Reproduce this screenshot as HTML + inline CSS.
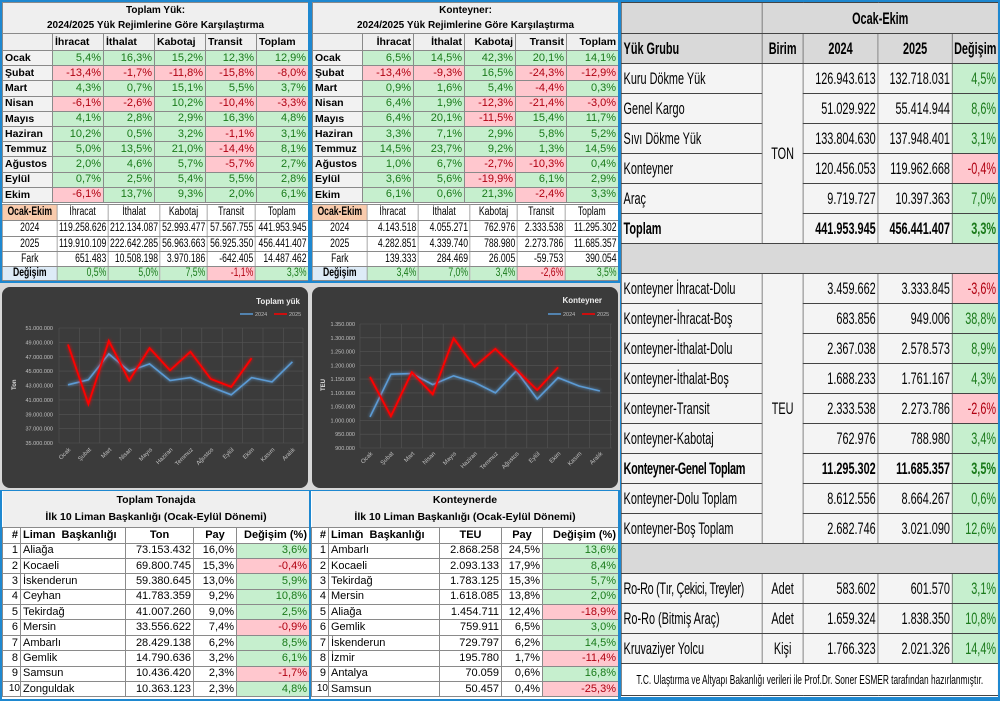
<!DOCTYPE html>
<html><head><meta charset="utf-8">
<style>
*{box-sizing:border-box}
body{margin:0;width:1000px;height:701px;background:#1e88d0;position:relative;overflow:hidden;font-family:"Liberation Sans",sans-serif;}
.p{position:absolute;background:#fff;overflow:hidden}
table{border-collapse:collapse;table-layout:fixed;position:absolute;left:0;top:0}
td{border:1px solid #8a8a8a;padding:0 2px;white-space:nowrap;overflow:hidden;font-size:11px;line-height:1}
.ttl{background:#efefef;font-weight:bold;text-align:center;font-size:10px;line-height:15px}
.h{background:#efefef;font-weight:bold;font-size:10.5px}
.l{background:#f2f2f2;font-weight:bold;font-size:10.5px}
.g{background:#c6efce;color:#1a7a1a;text-align:right}
.r{background:#ffc7ce;color:#b00010;text-align:right}
.w{background:#fff;text-align:right}
.c{text-align:center}
.pe{background:#f8cbad;text-align:center;font-weight:bold}
.bl{background:#ddebf7;text-align:center;font-weight:bold}
.S{transform:scaleX(0.75);transform-origin:0 0}
.S td{font-size:11.5px;padding:0 2px;line-height:11px}
.R{transform:scaleX(0.64);transform-origin:0 0}
.R td{font-size:17px;border:1px solid #444;padding:0 3px}
.R .gy{background:#d9d9d9}
.R .lb{background:#f4f4f4}
.B td{font-size:11px}
</style></head><body>

<!-- Top-left table -->
<div class="p" style="left:2px;top:2px;width:306px;height:279px">
<table style="width:306px">
<colgroup><col style="width:50px"><col style="width:51px"><col style="width:51px"><col style="width:51px"><col style="width:51px"><col style="width:52px"></colgroup>
<tr style="height:31px"><td colspan="6" class="ttl">Toplam Yük:<br>2024/2025 Yük Rejimlerine Göre Karşılaştırma</td></tr>
<tr style="height:17px"><td class="h"></td><td class="h">İhracat</td><td class="h">İthalat</td><td class="h">Kabotaj</td><td class="h">Transit</td><td class="h">Toplam</td></tr>
<tr style="height:15.2px"><td class="l">Ocak</td><td class="g">5,4%</td><td class="g">16,3%</td><td class="g">15,2%</td><td class="g">12,3%</td><td class="g">12,9%</td></tr>
<tr style="height:15.2px"><td class="l">Şubat</td><td class="r">-13,4%</td><td class="r">-1,7%</td><td class="r">-11,8%</td><td class="r">-15,8%</td><td class="r">-8,0%</td></tr>
<tr style="height:15.2px"><td class="l">Mart</td><td class="g">4,3%</td><td class="g">0,7%</td><td class="g">15,1%</td><td class="g">5,5%</td><td class="g">3,7%</td></tr>
<tr style="height:15.2px"><td class="l">Nisan</td><td class="r">-6,1%</td><td class="r">-2,6%</td><td class="g">10,2%</td><td class="r">-10,4%</td><td class="r">-3,3%</td></tr>
<tr style="height:15.2px"><td class="l">Mayıs</td><td class="g">4,1%</td><td class="g">2,8%</td><td class="g">2,9%</td><td class="g">16,3%</td><td class="g">4,8%</td></tr>
<tr style="height:15.2px"><td class="l">Haziran</td><td class="g">10,2%</td><td class="g">0,5%</td><td class="g">3,2%</td><td class="r">-1,1%</td><td class="g">3,1%</td></tr>
<tr style="height:15.2px"><td class="l">Temmuz</td><td class="g">5,0%</td><td class="g">13,5%</td><td class="g">21,0%</td><td class="r">-14,4%</td><td class="g">8,1%</td></tr>
<tr style="height:15.2px"><td class="l">Ağustos</td><td class="g">2,0%</td><td class="g">4,6%</td><td class="g">5,7%</td><td class="r">-5,7%</td><td class="g">2,7%</td></tr>
<tr style="height:15.2px"><td class="l">Eylül</td><td class="g">0,7%</td><td class="g">2,5%</td><td class="g">5,4%</td><td class="g">5,5%</td><td class="g">2,8%</td></tr>
<tr style="height:15.2px"><td class="l">Ekim</td><td class="r">-6,1%</td><td class="g">13,7%</td><td class="g">9,3%</td><td class="g">2,0%</td><td class="g">6,1%</td></tr>
</table>
<table class="S" style="width:408px;top:202px">
<colgroup><col style="width:73px"><col style="width:68px"><col style="width:69px"><col style="width:63px"><col style="width:64px"><col style="width:71px"></colgroup>
<tr style="height:16px"><td class="pe">Ocak-Ekim</td><td class="c">İhracat</td><td class="c">İthalat</td><td class="c">Kabotaj</td><td class="c">Transit</td><td class="c">Toplam</td></tr>
<tr style="height:16px"><td class="c">2024</td><td class="w">119.258.626</td><td class="w">212.134.087</td><td class="w">52.993.477</td><td class="w">57.567.755</td><td class="w">441.953.945</td></tr>
<tr style="height:15px"><td class="c">2025</td><td class="w">119.910.109</td><td class="w">222.642.285</td><td class="w">56.963.663</td><td class="w">56.925.350</td><td class="w">456.441.407</td></tr>
<tr style="height:15px"><td class="c">Fark</td><td class="w">651.483</td><td class="w">10.508.198</td><td class="w">3.970.186</td><td class="w">-642.405</td><td class="w">14.487.462</td></tr>
<tr style="height:14px"><td class="bl">Değişim</td><td class="g">0,5%</td><td class="g">5,0%</td><td class="g">7,5%</td><td class="r">-1,1%</td><td class="g">3,3%</td></tr>
</table>
</div>

<!-- Top-middle table -->
<div class="p" style="left:312px;top:2px;width:306px;height:279px">
<table style="width:306px">
<colgroup><col style="width:50px"><col style="width:51px"><col style="width:51px"><col style="width:51px"><col style="width:51px"><col style="width:52px"></colgroup>
<tr style="height:31px"><td colspan="6" class="ttl">Konteyner:<br>2024/2025 Yük Rejimlerine Göre Karşılaştırma</td></tr>
<tr style="height:17px"><td class="h"></td><td class="h" style="text-align:right">İhracat</td><td class="h" style="text-align:right">İthalat</td><td class="h" style="text-align:right">Kabotaj</td><td class="h" style="text-align:right">Transit</td><td class="h" style="text-align:right">Toplam</td></tr>
<tr style="height:15.2px"><td class="l">Ocak</td><td class="g">6,5%</td><td class="g">14,5%</td><td class="g">42,3%</td><td class="g">20,1%</td><td class="g">14,1%</td></tr>
<tr style="height:15.2px"><td class="l">Şubat</td><td class="r">-13,4%</td><td class="r">-9,3%</td><td class="g">16,5%</td><td class="r">-24,3%</td><td class="r">-12,9%</td></tr>
<tr style="height:15.2px"><td class="l">Mart</td><td class="g">0,9%</td><td class="g">1,6%</td><td class="g">5,4%</td><td class="r">-4,4%</td><td class="g">0,3%</td></tr>
<tr style="height:15.2px"><td class="l">Nisan</td><td class="g">6,4%</td><td class="g">1,9%</td><td class="r">-12,3%</td><td class="r">-21,4%</td><td class="r">-3,0%</td></tr>
<tr style="height:15.2px"><td class="l">Mayıs</td><td class="g">6,4%</td><td class="g">20,1%</td><td class="r">-11,5%</td><td class="g">15,4%</td><td class="g">11,7%</td></tr>
<tr style="height:15.2px"><td class="l">Haziran</td><td class="g">3,3%</td><td class="g">7,1%</td><td class="g">2,9%</td><td class="g">5,8%</td><td class="g">5,2%</td></tr>
<tr style="height:15.2px"><td class="l">Temmuz</td><td class="g">14,5%</td><td class="g">23,7%</td><td class="g">9,2%</td><td class="g">1,3%</td><td class="g">14,5%</td></tr>
<tr style="height:15.2px"><td class="l">Ağustos</td><td class="g">1,0%</td><td class="g">6,7%</td><td class="r">-2,7%</td><td class="r">-10,3%</td><td class="g">0,4%</td></tr>
<tr style="height:15.2px"><td class="l">Eylül</td><td class="g">3,6%</td><td class="g">5,6%</td><td class="r">-19,9%</td><td class="g">6,1%</td><td class="g">2,9%</td></tr>
<tr style="height:15.2px"><td class="l">Ekim</td><td class="g">6,1%</td><td class="g">0,6%</td><td class="g">21,3%</td><td class="r">-2,4%</td><td class="g">3,3%</td></tr>
</table>
<table class="S" style="width:408px;top:202px">
<colgroup><col style="width:73px"><col style="width:68px"><col style="width:69px"><col style="width:63px"><col style="width:64px"><col style="width:71px"></colgroup>
<tr style="height:16px"><td class="pe">Ocak-Ekim</td><td class="c">İhracat</td><td class="c">İthalat</td><td class="c">Kabotaj</td><td class="c">Transit</td><td class="c">Toplam</td></tr>
<tr style="height:16px"><td class="c">2024</td><td class="w">4.143.518</td><td class="w">4.055.271</td><td class="w">762.976</td><td class="w">2.333.538</td><td class="w">11.295.302</td></tr>
<tr style="height:15px"><td class="c">2025</td><td class="w">4.282.851</td><td class="w">4.339.740</td><td class="w">788.980</td><td class="w">2.273.786</td><td class="w">11.685.357</td></tr>
<tr style="height:15px"><td class="c">Fark</td><td class="w">139.333</td><td class="w">284.469</td><td class="w">26.005</td><td class="w">-59.753</td><td class="w">390.054</td></tr>
<tr style="height:14px"><td class="bl">Değişim</td><td class="g">3,4%</td><td class="g">7,0%</td><td class="g">3,4%</td><td class="r">-2,6%</td><td class="g">3,5%</td></tr>
</table>
</div>

<!-- Charts -->
<div class="p" style="left:0;top:283px;width:310px;height:207px;background:#d8d8d8"></div>
<div class="p" style="left:310px;top:283px;width:310px;height:207px;background:#d8d8d8"></div>
<svg style="position:absolute;left:0;top:285px" width="310" height="205" font-family="Liberation Sans,sans-serif">
<defs><filter id="gl" x="-10%" y="-10%" width="120%" height="120%"><feGaussianBlur stdDeviation="1.6" result="b"/><feMerge><feMergeNode in="b"/><feMergeNode in="SourceGraphic"/></feMerge></filter></defs>
<rect x="2" y="2" width="306" height="201" rx="8" fill="#3b3b3b"/>
<g stroke="#555" stroke-width="0.6">
<line x1="59" y1="43" x2="303" y2="43"/><line x1="59" y1="57.4" x2="303" y2="57.4"/><line x1="59" y1="71.8" x2="303" y2="71.8"/><line x1="59" y1="86.1" x2="303" y2="86.1"/><line x1="59" y1="100.5" x2="303" y2="100.5"/><line x1="59" y1="114.9" x2="303" y2="114.9"/><line x1="59" y1="129.3" x2="303" y2="129.3"/><line x1="59" y1="143.6" x2="303" y2="143.6"/><line x1="59" y1="158" x2="303" y2="158"/>
<line x1="59" y1="43" x2="59" y2="158"/><line x1="79.4" y1="43" x2="79.4" y2="158"/><line x1="99.8" y1="43" x2="99.8" y2="158"/><line x1="120.2" y1="43" x2="120.2" y2="158"/><line x1="140.6" y1="43" x2="140.6" y2="158"/><line x1="161" y1="43" x2="161" y2="158"/><line x1="181.4" y1="43" x2="181.4" y2="158"/><line x1="201.8" y1="43" x2="201.8" y2="158"/><line x1="222.2" y1="43" x2="222.2" y2="158"/><line x1="242.6" y1="43" x2="242.6" y2="158"/><line x1="263" y1="43" x2="263" y2="158"/><line x1="283.4" y1="43" x2="283.4" y2="158"/><line x1="303" y1="43" x2="303" y2="158"/>
</g>
<g fill="#c0c0c0" font-size="5.5" text-anchor="end">
<text x="53" y="45">51.000.000</text><text x="53" y="59.4">49.000.000</text><text x="53" y="73.8">47.000.000</text><text x="53" y="88.1">45.000.000</text><text x="53" y="102.5">43.000.000</text><text x="53" y="116.9">41.000.000</text><text x="53" y="131.3">39.000.000</text><text x="53" y="145.6">37.000.000</text><text x="53" y="160">35.000.000</text>
</g>
<text transform="translate(16,105) rotate(-90)" fill="#ddd" font-size="6" font-weight="bold">Ton</text>
<g fill="#c0c0c0" font-size="6" text-anchor="end">
<text transform="translate(71,165) rotate(-45)">Ocak</text><text transform="translate(91.4,165) rotate(-45)">Şubat</text><text transform="translate(111.8,165) rotate(-45)">Mart</text><text transform="translate(132.2,165) rotate(-45)">Nisan</text><text transform="translate(152.6,165) rotate(-45)">Mayıs</text><text transform="translate(173,165) rotate(-45)">Haziran</text><text transform="translate(193.4,165) rotate(-45)">Temmuz</text><text transform="translate(213.8,165) rotate(-45)">Ağustos</text><text transform="translate(234.2,165) rotate(-45)">Eylül</text><text transform="translate(254.6,165) rotate(-45)">Ekim</text><text transform="translate(275,165) rotate(-45)">Kasım</text><text transform="translate(295.4,165) rotate(-45)">Aralık</text>
</g>
<text x="300" y="19" fill="#eee" font-size="8" font-weight="bold" text-anchor="end">Toplam yük</text>
<line x1="240" y1="29" x2="253" y2="29" stroke="#5b9bd5" stroke-width="1.5"/><text x="255" y="31" fill="#bbb" font-size="5.5">2024</text>
<line x1="274" y1="29" x2="287" y2="29" stroke="#f00" stroke-width="1.5"/><text x="289" y="31" fill="#bbb" font-size="5.5">2025</text>
<polyline filter="url(#gl)" fill="none" stroke="#5b9bd5" stroke-width="1.6" points="68,99.8 88.4,94.8 108.8,68.9 129.2,86.1 149.6,78.9 170,95.5 190.4,92.6 210.8,101.9 231.2,109.8 251.6,92.6 272,96.9 292.4,76.8"/>
<polyline filter="url(#gl)" fill="none" stroke="#f00" stroke-width="1.8" points="68,59.5 88.4,119.2 108.8,55.9 129.2,95.5 149.6,63.1 170,85.4 190.4,66.7 210.8,94 231.2,101.9 251.6,73.2"/>
</svg>

<svg style="position:absolute;left:310px;top:285px" width="310" height="205" font-family="Liberation Sans,sans-serif">
<defs><filter id="gl2" x="-10%" y="-10%" width="120%" height="120%"><feGaussianBlur stdDeviation="1.6" result="b"/><feMerge><feMergeNode in="b"/><feMergeNode in="SourceGraphic"/></feMerge></filter></defs>
<rect x="2" y="2" width="306" height="201" rx="8" fill="#3b3b3b"/>
<g stroke="#555" stroke-width="0.6">
<line x1="50" y1="39" x2="302" y2="39"/><line x1="50" y1="52.8" x2="302" y2="52.8"/><line x1="50" y1="66.6" x2="302" y2="66.6"/><line x1="50" y1="80.3" x2="302" y2="80.3"/><line x1="50" y1="94.1" x2="302" y2="94.1"/><line x1="50" y1="107.9" x2="302" y2="107.9"/><line x1="50" y1="121.7" x2="302" y2="121.7"/><line x1="50" y1="135.4" x2="302" y2="135.4"/><line x1="50" y1="149.2" x2="302" y2="149.2"/><line x1="50" y1="163" x2="302" y2="163"/>
<line x1="50" y1="39" x2="50" y2="163"/><line x1="70.5" y1="39" x2="70.5" y2="163"/><line x1="91.4" y1="39" x2="91.4" y2="163"/><line x1="112.3" y1="39" x2="112.3" y2="163"/><line x1="133.2" y1="39" x2="133.2" y2="163"/><line x1="154.1" y1="39" x2="154.1" y2="163"/><line x1="175" y1="39" x2="175" y2="163"/><line x1="195.9" y1="39" x2="195.9" y2="163"/><line x1="216.8" y1="39" x2="216.8" y2="163"/><line x1="237.7" y1="39" x2="237.7" y2="163"/><line x1="258.6" y1="39" x2="258.6" y2="163"/><line x1="279.5" y1="39" x2="279.5" y2="163"/><line x1="300.4" y1="39" x2="300.4" y2="163"/>
</g>
<g fill="#c0c0c0" font-size="5.5" text-anchor="end">
<text x="45" y="41">1.350.000</text><text x="45" y="54.8">1.300.000</text><text x="45" y="68.6">1.250.000</text><text x="45" y="82.3">1.200.000</text><text x="45" y="96.1">1.150.000</text><text x="45" y="109.9">1.100.000</text><text x="45" y="123.7">1.050.000</text><text x="45" y="137.4">1.000.000</text><text x="45" y="151.2">950.000</text><text x="45" y="165">900.000</text>
</g>
<text transform="translate(15,106) rotate(-90)" fill="#ddd" font-size="6" font-weight="bold">TEU</text>
<g fill="#c0c0c0" font-size="6" text-anchor="end">
<text transform="translate(63,169) rotate(-45)">Ocak</text><text transform="translate(83.9,169) rotate(-45)">Şubat</text><text transform="translate(104.8,169) rotate(-45)">Mart</text><text transform="translate(125.7,169) rotate(-45)">Nisan</text><text transform="translate(146.6,169) rotate(-45)">Mayıs</text><text transform="translate(167.5,169) rotate(-45)">Haziran</text><text transform="translate(188.4,169) rotate(-45)">Temmuz</text><text transform="translate(209.3,169) rotate(-45)">Ağustos</text><text transform="translate(230.2,169) rotate(-45)">Eylül</text><text transform="translate(251.1,169) rotate(-45)">Ekim</text><text transform="translate(272,169) rotate(-45)">Kasım</text><text transform="translate(292.9,169) rotate(-45)">Aralık</text>
</g>
<text x="292" y="18" fill="#eee" font-size="8" font-weight="bold" text-anchor="end">Konteyner</text>
<line x1="238" y1="29" x2="251" y2="29" stroke="#5b9bd5" stroke-width="1.5"/><text x="253" y="31" fill="#bbb" font-size="5.5">2024</text>
<line x1="272" y1="29" x2="285" y2="29" stroke="#f00" stroke-width="1.5"/><text x="287" y="31" fill="#bbb" font-size="5.5">2025</text>
<polyline filter="url(#gl2)" fill="none" stroke="#5b9bd5" stroke-width="1.6" points="60,131.9 80.9,89.2 101.8,88.6 122.7,99.6 143.6,90.8 164.5,97.4 185.4,107.9 206.3,85.9 227.2,114 248.1,92.7 269,101 289.9,106"/>
<polyline filter="url(#gl2)" fill="none" stroke="#f00" stroke-width="1.8" points="60,91.9 80.9,131.3 101.8,87.2 122.7,109.3 143.6,53.3 164.5,81.7 185.4,63.8 206.3,84.5 227.2,105.1 248.1,82.3"/>
</svg>

<!-- Bottom-left -->
<div class="p" style="left:2px;top:491px;width:307px;height:208px">
<table class="B" style="width:307px">
<colgroup><col style="width:18px"><col style="width:105px"><col style="width:68px"><col style="width:43px"><col style="width:73px"></colgroup>
<tr style="height:36px"><td colspan="5" class="ttl" style="font-size:10.5px;line-height:17px;border:none">Toplam Tonajda<br>İlk 10 Liman Başkanlığı (Ocak-Eylül Dönemi)</td></tr>
<tr style="height:16px"><td style="text-align:right;font-weight:bold">#</td><td style="font-weight:bold">Liman &nbsp;Başkanlığı</td><td class="c" style="font-weight:bold">Ton</td><td class="c" style="font-weight:bold">Pay</td><td style="text-align:right;font-weight:bold">Değişim (%)</td></tr>
<tr style="height:15.4px"><td style="text-align:right">1</td><td>Aliağa</td><td style="text-align:right">73.153.432</td><td style="text-align:right">16,0%</td><td class="g">3,6%</td></tr>
<tr style="height:15.4px"><td style="text-align:right">2</td><td>Kocaeli</td><td style="text-align:right">69.800.745</td><td style="text-align:right">15,3%</td><td class="r">-0,4%</td></tr>
<tr style="height:15.4px"><td style="text-align:right">3</td><td>İskenderun</td><td style="text-align:right">59.380.645</td><td style="text-align:right">13,0%</td><td class="g">5,9%</td></tr>
<tr style="height:15.4px"><td style="text-align:right">4</td><td>Ceyhan</td><td style="text-align:right">41.783.359</td><td style="text-align:right">9,2%</td><td class="g">10,8%</td></tr>
<tr style="height:15.4px"><td style="text-align:right">5</td><td>Tekirdağ</td><td style="text-align:right">41.007.260</td><td style="text-align:right">9,0%</td><td class="g">2,5%</td></tr>
<tr style="height:15.4px"><td style="text-align:right">6</td><td>Mersin</td><td style="text-align:right">33.556.622</td><td style="text-align:right">7,4%</td><td class="r">-0,9%</td></tr>
<tr style="height:15.4px"><td style="text-align:right">7</td><td>Ambarlı</td><td style="text-align:right">28.429.138</td><td style="text-align:right">6,2%</td><td class="g">8,5%</td></tr>
<tr style="height:15.4px"><td style="text-align:right">8</td><td>Gemlik</td><td style="text-align:right">14.790.636</td><td style="text-align:right">3,2%</td><td class="g">6,1%</td></tr>
<tr style="height:15.4px"><td style="text-align:right">9</td><td>Samsun</td><td style="text-align:right">10.436.420</td><td style="text-align:right">2,3%</td><td class="r">-1,7%</td></tr>
<tr style="height:15.4px"><td style="text-align:right;padding:0;font-size:10px">10</td><td>Zonguldak</td><td style="text-align:right">10.363.123</td><td style="text-align:right">2,3%</td><td class="g">4,8%</td></tr>
</table>
</div>

<!-- Bottom-middle -->
<div class="p" style="left:311px;top:491px;width:307px;height:208px">
<table class="B" style="width:307px">
<colgroup><col style="width:17px"><col style="width:111px"><col style="width:62px"><col style="width:41px"><col style="width:76px"></colgroup>
<tr style="height:36px"><td colspan="5" class="ttl" style="font-size:10.5px;line-height:17px;border:none">Konteynerde<br>İlk 10 Liman Başkanlığı (Ocak-Eylül Dönemi)</td></tr>
<tr style="height:16px"><td style="text-align:right;font-weight:bold">#</td><td style="font-weight:bold">Liman &nbsp;Başkanlığı</td><td class="c" style="font-weight:bold">TEU</td><td class="c" style="font-weight:bold">Pay</td><td style="text-align:right;font-weight:bold">Değişim (%)</td></tr>
<tr style="height:15.4px"><td style="text-align:right">1</td><td>Ambarlı</td><td style="text-align:right">2.868.258</td><td style="text-align:right">24,5%</td><td class="g">13,6%</td></tr>
<tr style="height:15.4px"><td style="text-align:right">2</td><td>Kocaeli</td><td style="text-align:right">2.093.133</td><td style="text-align:right">17,9%</td><td class="g">8,4%</td></tr>
<tr style="height:15.4px"><td style="text-align:right">3</td><td>Tekirdağ</td><td style="text-align:right">1.783.125</td><td style="text-align:right">15,3%</td><td class="g">5,7%</td></tr>
<tr style="height:15.4px"><td style="text-align:right">4</td><td>Mersin</td><td style="text-align:right">1.618.085</td><td style="text-align:right">13,8%</td><td class="g">2,0%</td></tr>
<tr style="height:15.4px"><td style="text-align:right">5</td><td>Aliağa</td><td style="text-align:right">1.454.711</td><td style="text-align:right">12,4%</td><td class="r">-18,9%</td></tr>
<tr style="height:15.4px"><td style="text-align:right">6</td><td>Gemlik</td><td style="text-align:right">759.911</td><td style="text-align:right">6,5%</td><td class="g">3,0%</td></tr>
<tr style="height:15.4px"><td style="text-align:right">7</td><td>İskenderun</td><td style="text-align:right">729.797</td><td style="text-align:right">6,2%</td><td class="g">14,5%</td></tr>
<tr style="height:15.4px"><td style="text-align:right">8</td><td>İzmir</td><td style="text-align:right">195.780</td><td style="text-align:right">1,7%</td><td class="r">-11,4%</td></tr>
<tr style="height:15.4px"><td style="text-align:right">9</td><td>Antalya</td><td style="text-align:right">70.059</td><td style="text-align:right">0,6%</td><td class="g">16,8%</td></tr>
<tr style="height:15.4px"><td style="text-align:right;padding:0;font-size:10px">10</td><td>Samsun</td><td style="text-align:right">50.457</td><td style="text-align:right">0,4%</td><td class="r">-25,3%</td></tr>
</table>
</div>

<!-- Right table -->
<div class="p" style="left:621px;top:2px;width:377px;height:695px">
<table class="R" style="width:589px">
<colgroup><col style="width:220px"><col style="width:64px"><col style="width:117px"><col style="width:116px"><col style="width:72px"></colgroup>
<tr style="height:31px"><td class="gy"></td><td colspan="4" class="gy c" style="font-weight:bold">Ocak-Ekim</td></tr>
<tr style="height:30px"><td class="gy" style="font-weight:bold">Yük Grubu</td><td class="gy c" style="font-weight:bold">Birim</td><td class="gy c" style="font-weight:bold">2024</td><td class="gy c" style="font-weight:bold">2025</td><td class="gy c" style="font-weight:bold;padding:0">Değişim</td></tr>
<tr style="height:30px"><td class="lb">Kuru Dökme Yük</td><td rowspan="6" class="lb c">TON</td><td class="lb" style="text-align:right">126.943.613</td><td class="lb" style="text-align:right">132.718.031</td><td class="g">4,5%</td></tr>
<tr style="height:30px"><td class="lb">Genel Kargo</td><td class="lb" style="text-align:right">51.029.922</td><td class="lb" style="text-align:right">55.414.944</td><td class="g">8,6%</td></tr>
<tr style="height:30px"><td class="lb">Sıvı Dökme Yük</td><td class="lb" style="text-align:right">133.804.630</td><td class="lb" style="text-align:right">137.948.401</td><td class="g">3,1%</td></tr>
<tr style="height:30px"><td class="lb">Konteyner</td><td class="lb" style="text-align:right">120.456.053</td><td class="lb" style="text-align:right">119.962.668</td><td class="r">-0,4%</td></tr>
<tr style="height:30px"><td class="lb">Araç</td><td class="lb" style="text-align:right">9.719.727</td><td class="lb" style="text-align:right">10.397.363</td><td class="g">7,0%</td></tr>
<tr style="height:30px"><td class="lb" style="font-weight:bold">Toplam</td><td class="lb" style="text-align:right;font-weight:bold">441.953.945</td><td class="lb" style="text-align:right;font-weight:bold">456.441.407</td><td class="g" style="font-weight:bold">3,3%</td></tr>
<tr style="height:30px"><td colspan="5" class="gy"></td></tr>
<tr style="height:30px"><td class="lb">Konteyner İhracat-Dolu</td><td rowspan="9" class="lb c">TEU</td><td class="lb" style="text-align:right">3.459.662</td><td class="lb" style="text-align:right">3.333.845</td><td class="r">-3,6%</td></tr>
<tr style="height:30px"><td class="lb">Konteyner-İhracat-Boş</td><td class="lb" style="text-align:right">683.856</td><td class="lb" style="text-align:right">949.006</td><td class="g">38,8%</td></tr>
<tr style="height:30px"><td class="lb">Konteyner-İthalat-Dolu</td><td class="lb" style="text-align:right">2.367.038</td><td class="lb" style="text-align:right">2.578.573</td><td class="g">8,9%</td></tr>
<tr style="height:30px"><td class="lb">Konteyner-İthalat-Boş</td><td class="lb" style="text-align:right">1.688.233</td><td class="lb" style="text-align:right">1.761.167</td><td class="g">4,3%</td></tr>
<tr style="height:30px"><td class="lb">Konteyner-Transit</td><td class="lb" style="text-align:right">2.333.538</td><td class="lb" style="text-align:right">2.273.786</td><td class="r">-2,6%</td></tr>
<tr style="height:30px"><td class="lb">Konteyner-Kabotaj</td><td class="lb" style="text-align:right">762.976</td><td class="lb" style="text-align:right">788.980</td><td class="g">3,4%</td></tr>
<tr style="height:30px"><td class="lb" style="font-weight:bold;letter-spacing:-0.5px">Konteyner-Genel Toplam</td><td class="lb" style="text-align:right;font-weight:bold">11.295.302</td><td class="lb" style="text-align:right;font-weight:bold">11.685.357</td><td class="g" style="font-weight:bold">3,5%</td></tr>
<tr style="height:30px"><td class="lb">Konteyner-Dolu Toplam</td><td class="lb" style="text-align:right">8.612.556</td><td class="lb" style="text-align:right">8.664.267</td><td class="g">0,6%</td></tr>
<tr style="height:30px"><td class="lb">Konteyner-Boş Toplam</td><td class="lb" style="text-align:right">2.682.746</td><td class="lb" style="text-align:right">3.021.090</td><td class="g">12,6%</td></tr>
<tr style="height:30px"><td colspan="5" class="gy"></td></tr>
<tr style="height:30px"><td class="lb" style="letter-spacing:-0.5px">Ro-Ro (Tır, Çekici, Treyler)</td><td class="lb c">Adet</td><td class="lb" style="text-align:right">583.602</td><td class="lb" style="text-align:right">601.570</td><td class="g">3,1%</td></tr>
<tr style="height:30px"><td class="lb">Ro-Ro (Bitmiş Araç)</td><td class="lb c">Adet</td><td class="lb" style="text-align:right">1.659.324</td><td class="lb" style="text-align:right">1.838.350</td><td class="g">10,8%</td></tr>
<tr style="height:30px"><td class="lb">Kruvaziyer Yolcu</td><td class="lb c">Kişi</td><td class="lb" style="text-align:right">1.766.323</td><td class="lb" style="text-align:right">2.021.326</td><td class="g">14,4%</td></tr>
<tr style="height:32px"><td colspan="5" class="c" style="font-size:13px;background:#fff">T.C. Ulaştırma ve Altyapı Bakanlığı verileri ile Prof.Dr. Soner ESMER tarafından hazırlanmıştır.</td></tr>
</table>
</div>
</body></html>
